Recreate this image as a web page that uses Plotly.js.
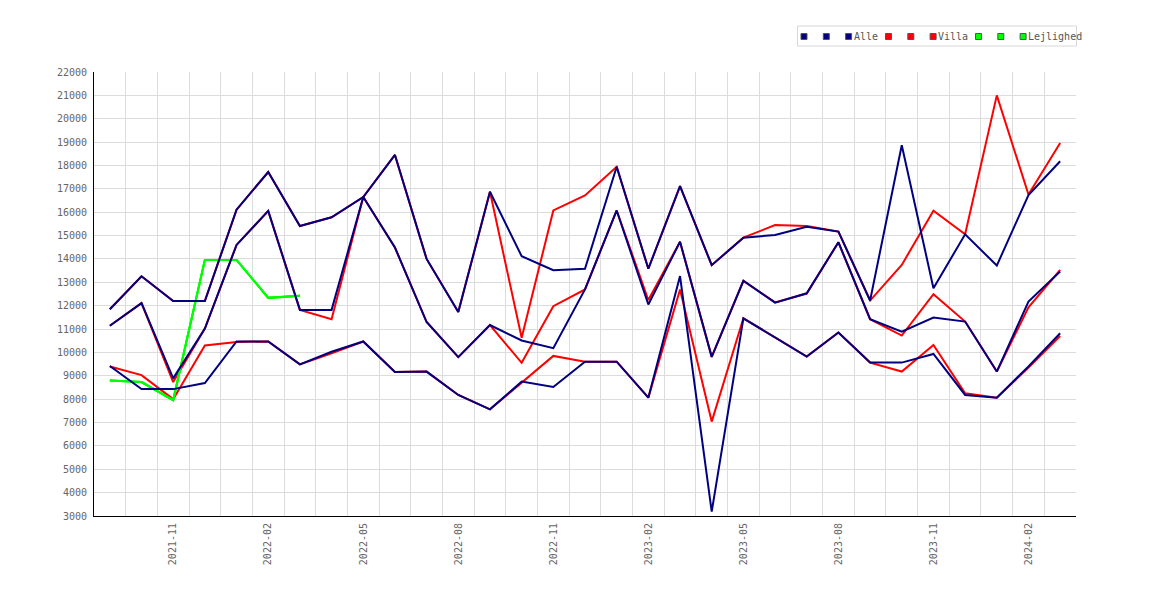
<!DOCTYPE html>
<html>
<head>
<meta charset="utf-8">
<script src="https://cdn.plot.ly/plotly-3.0.1.min.js"></script>
<style>html,body{margin:0;padding:0;background:#fff}#chart{width:1170px;height:600px}</style>
</head>
<body>
<div id="chart"></div>
<script>
// Categories (months)
const months = ['2021-09','2021-10','2021-11','2021-12','2022-01','2022-02','2022-03','2022-04','2022-05','2022-06',
  '2022-07','2022-08','2022-09','2022-10','2022-11','2022-12','2023-01','2023-02','2023-03','2023-04',
  '2023-05','2023-06','2023-07','2023-08','2023-09','2023-10','2023-11','2023-12','2024-01','2024-02','2024-03'];

// Alle (three lines)
const alle1 = [11850,13260,12200,12200,16110,17720,15410,15785,16650,18450,14000,11725,16875,14120,13520,13580,17945,13580,17115,13735,14910,15025,15380,15170,12220,18865,12750,15055,13717,16733,18183];
const alle2 = [11140,12110,8890,11020,14600,16055,11820,11820,16650,14490,11300,9800,11170,10510,10180,12695,16075,12050,14735,9810,13065,12130,12530,14715,11420,10890,11490,11320,9180,12175,13460];
const alle3 = [9420,8430,8430,8690,10470,10470,9490,10030,10470,9160,9180,8180,7565,8750,8520,9605,9605,8065,13265,3185,11460,10640,9820,10850,9565,9565,9935,8180,8065,9400,10820];

// Villa (three lines)
const villa1 = [11850,13260,12200,12200,16110,17720,15410,15785,16650,18450,14000,11725,16875,10625,16075,16720,17945,13580,17115,13735,14910,15450,15410,15170,12220,13745,16065,15055,21000,16760,18965];
const villa2 = [11140,12110,8730,11020,14600,16055,11820,11420,16650,14490,11300,9800,11170,9555,11980,12695,16075,12240,14735,9810,13065,12140,12520,14710,11420,10720,12490,11320,9180,11930,13530];
const villa3 = [9400,9030,8000,10300,10450,10470,9490,9960,10470,9160,9180,8180,7565,8700,9850,9605,9605,8065,12695,7040,11460,10640,9820,10850,9565,9180,10320,8250,8065,9350,10700];

// Lejlighed (three lines, only first months)
const lejl1 = [8800,8730,7960,13960,13960,12335,12420];
const lejl2 = [8800,8730,7960,13960,13960,12335,12420];
const lejl3 = [8800,8730,7960,13960,13960,12335,12420];

const seriesNames = ['Alle','Villa','Lejlighed'];
const seriesColors = ['#000080','#ff0000','#00ff00'];

const xIdx = months.map((m,i)=>i);
function mk(vals, color){
  return {x: xIdx.slice(0, vals.length), y: vals, type:'scatter', mode:'lines',
    line:{color: color, width: 2}, showlegend:false, hoverinfo:'skip'};
}
const traces = [
  mk(villa1, seriesColors[1]), mk(villa2, seriesColors[1]), mk(villa3, seriesColors[1]),
  mk(lejl1, seriesColors[2]), mk(lejl2, seriesColors[2]), mk(lejl3, seriesColors[2]),
  mk(alle1, seriesColors[0]), mk(alle2, seriesColors[0]), mk(alle3, seriesColors[0])
];

const tickIdx = xIdx.filter(i => i % 3 === 2);
const tickText = tickIdx.map(i => months[i]);

// Plot area in pixels
const W = 1170, H = 600, L = 94, R = 94, T = 72, B = 84;
const pw = W - L - R, ph = H - T - B;
const px = x => (x - L) / pw;
const py = y => (H - B - y) / ph;

const shapes = [];
const annotations = [];
// legend box
shapes.push({type:'rect', xref:'paper', yref:'paper', x0:px(797.5), x1:px(1076.5), y0:py(46), y1:py(26),
  line:{color:'#d8d8d8', width:1}, fillcolor:'#ffffff', layer:'above'});
const groupStarts = [801, 885.5, 975.5];
seriesNames.forEach((name, s) => {
  const x0 = groupStarts[s];
  [0, 22.3, 44.6].forEach(off => {
    shapes.push({type:'rect', xref:'paper', yref:'paper', x0:px(x0+off), x1:px(x0+off+6), y0:py(39.5), y1:py(33.5),
      line:{color:'#555555', width:1}, fillcolor:seriesColors[s], layer:'above'});
  });
  annotations.push({xref:'paper', yref:'paper', x:px(x0+44.6+7), y:py(36.5), xanchor:'left', yanchor:'middle',
    text:name, showarrow:false, borderpad:0, font:{family:'DejaVu Sans Mono, monospace', size:10, color:'#555555'}});
});

const tickFont = {family:'DejaVu Sans Mono, Liberation Mono, monospace', size:10, color:'#666666'};

const layout = {
  width: W, height: H,
  margin: {l:L, r:R, t:T, b:B, pad:0},
  paper_bgcolor:'#ffffff', plot_bgcolor:'#ffffff',
  showlegend:false,
  xaxis: {
    range:[-0.5, 30.5], tickmode:'array', tickvals: tickIdx, ticktext: tickText,
    tickangle:-90, tickfont: tickFont, showgrid:false, zeroline:false,
    showline:true, linecolor:'#000000', linewidth:1, ticks:'', ticklabelstandoff:2,
    minor:{tickmode:'linear', tick0:0.5, dtick:1, showgrid:true, gridcolor:'#dcdcdc', gridwidth:1, ticks:''}
  },
  yaxis: {
    range:[3000, 22000], tickmode:'linear', tick0:3000, dtick:1000, tickformat:'d',
    tickfont: tickFont, showgrid:true, gridcolor:'#dcdcdc', gridwidth:1, zeroline:false,
    showline:true, linecolor:'#000000', linewidth:1, ticks:'', ticklabelstandoff:4
  },
  shapes: shapes,
  annotations: annotations
};

Plotly.newPlot('chart', traces, layout, {staticPlot:true, displayModeBar:false});
</script>
</body>
</html>
